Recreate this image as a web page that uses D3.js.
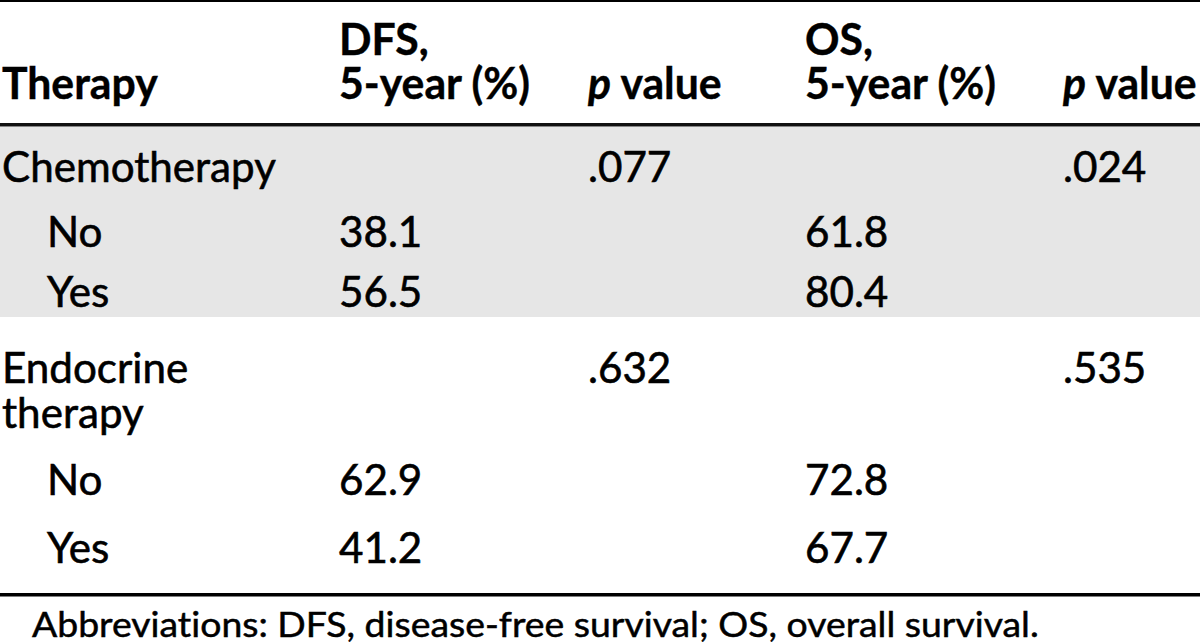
<!DOCTYPE html>
<html><head><meta charset="utf-8">
<script src="https://cdn.jsdelivr.net/npm/d3@7"></script>
<style>body{margin:0;background:#fff;overflow:hidden} text{font-variant-ligatures:none;font-feature-settings:"liga" 0,"clig" 0}</style>
</head><body>
<svg id="c" width="1200" height="644"></svg>
<script>
// ---- data ----
const headers = [["Therapy"], ["DFS,", "5-year (%)"], ["*p value"], ["OS,", "5-year (%)"], ["*p value"]];
const rowLabels = ["Chemotherapy", "No", "Yes", "Endocrine therapy", "No", "Yes"];
const rowLevel = [0, 1, 1, 0, 1, 1];
const dfs = [null, "38.1", "56.5", null, "62.9", "41.2"];
const dfsP = [".077", null, null, ".632", null, null];
const os = [null, "61.8", "80.4", null, "72.8", "67.7"];
const osP = [".024", null, null, ".535", null, null];
const groups = [{first: 0, last: 2, shaded: true}, {first: 3, last: 5, shaded: false}];
const footnote = "Abbreviations: DFS, disease-free survival; OS, overall survival.";

// ---- layout ----
const W = 1200, H = 644;
const colX = d3.scaleOrdinal().domain(d3.range(5)).range([2, 339, 588, 805, 1063]);
const rowY = d3.scaleOrdinal().domain(d3.range(6)).range([182, 247, 307, 383, 495, 563]);
const indent = 45, lineGap = 45;
const FONT = "Lato, 'Open Sans', sans-serif";

const svg = d3.select("#c");

function measure(str, size, weight) {
  const t = svg.append("text").attr("font-family", FONT).attr("font-size", size)
    .attr("font-weight", weight).text(str);
  const w = t.node().getComputedTextLength();
  t.remove();
  return w;
}
const bodySize = 43, headSize = 43, footSize = 35;
const sxBody = 274 / measure("Chemotherapy", bodySize, 400);
const sxHead = 191 / measure("5-year (%)", headSize, 700);
const sxFoot = 1007 / measure(footnote, footSize, 400);

// backgrounds & rules
svg.append("rect").attr("x", 0).attr("y", 0).attr("width", W).attr("height", H).attr("fill", "#fff");
groups.filter(g => g.shaded).forEach(g => {
  svg.append("rect").attr("x", 0).attr("y", 127).attr("width", W).attr("height", 190).attr("fill", "#e6e6e6");
});
svg.append("rect").attr("x", 0).attr("y", 0).attr("width", W).attr("height", 2).attr("fill", "#000");
svg.append("rect").attr("x", 0).attr("y", 123).attr("width", W).attr("height", 3.5).attr("fill", "#111");
svg.append("rect").attr("x", 0).attr("y", 593).attr("width", W).attr("height", 3.5).attr("fill", "#000");

function addLine(t, str, first, gap) {
  const base = first ? {x: 0, dy: 0} : {x: 0, dy: gap};
  if (str.startsWith("*")) {
    const s = str.slice(1);
    t.append("tspan").attr("x", base.x).attr("dy", base.dy).attr("font-style", "italic").text(s.slice(0, 1));
    t.append("tspan").text(s.slice(1));
  } else {
    t.append("tspan").attr("x", base.x).attr("dy", base.dy).text(str);
  }
}
function put(lines, x, y, size, weight, sx, gap, stroke) {
  const t = svg.append("text")
    .attr("transform", `translate(${x},${y}) scale(${sx},1)`)
    .attr("font-family", FONT).attr("font-size", size).attr("font-weight", weight)
    .attr("fill", "#000").attr("stroke", "#000").attr("stroke-width", stroke);
  lines.forEach((ln, k) => addLine(t, ln, k === 0, gap));
  return t;
}

// header
const headBase = 99, headGap = 44;
headers.forEach((lines, c) => {
  put(lines, colX(c), headBase - (lines.length - 1) * headGap, headSize, 700, sxHead, headGap, 0.4);
});

// body rows
rowLabels.forEach((lab, r) => {
  const x = colX(0) + rowLevel[r] * indent;
  const parts = lab === "Endocrine therapy" ? ["Endocrine", "therapy"] : [lab];
  put(parts, x, rowY(r), bodySize, 400, sxBody, lineGap, 0.6);
  [[dfs, 1], [dfsP, 2], [os, 3], [osP, 4]].forEach(([arr, c]) => {
    if (arr[r] != null) put([arr[r]], colX(c), rowY(r), bodySize, 400, sxBody, lineGap, 0.6);
  });
});

// footnote
put([footnote], 32, 637, footSize, 400, sxFoot, 0, 0.5);
</script>
</body></html>
